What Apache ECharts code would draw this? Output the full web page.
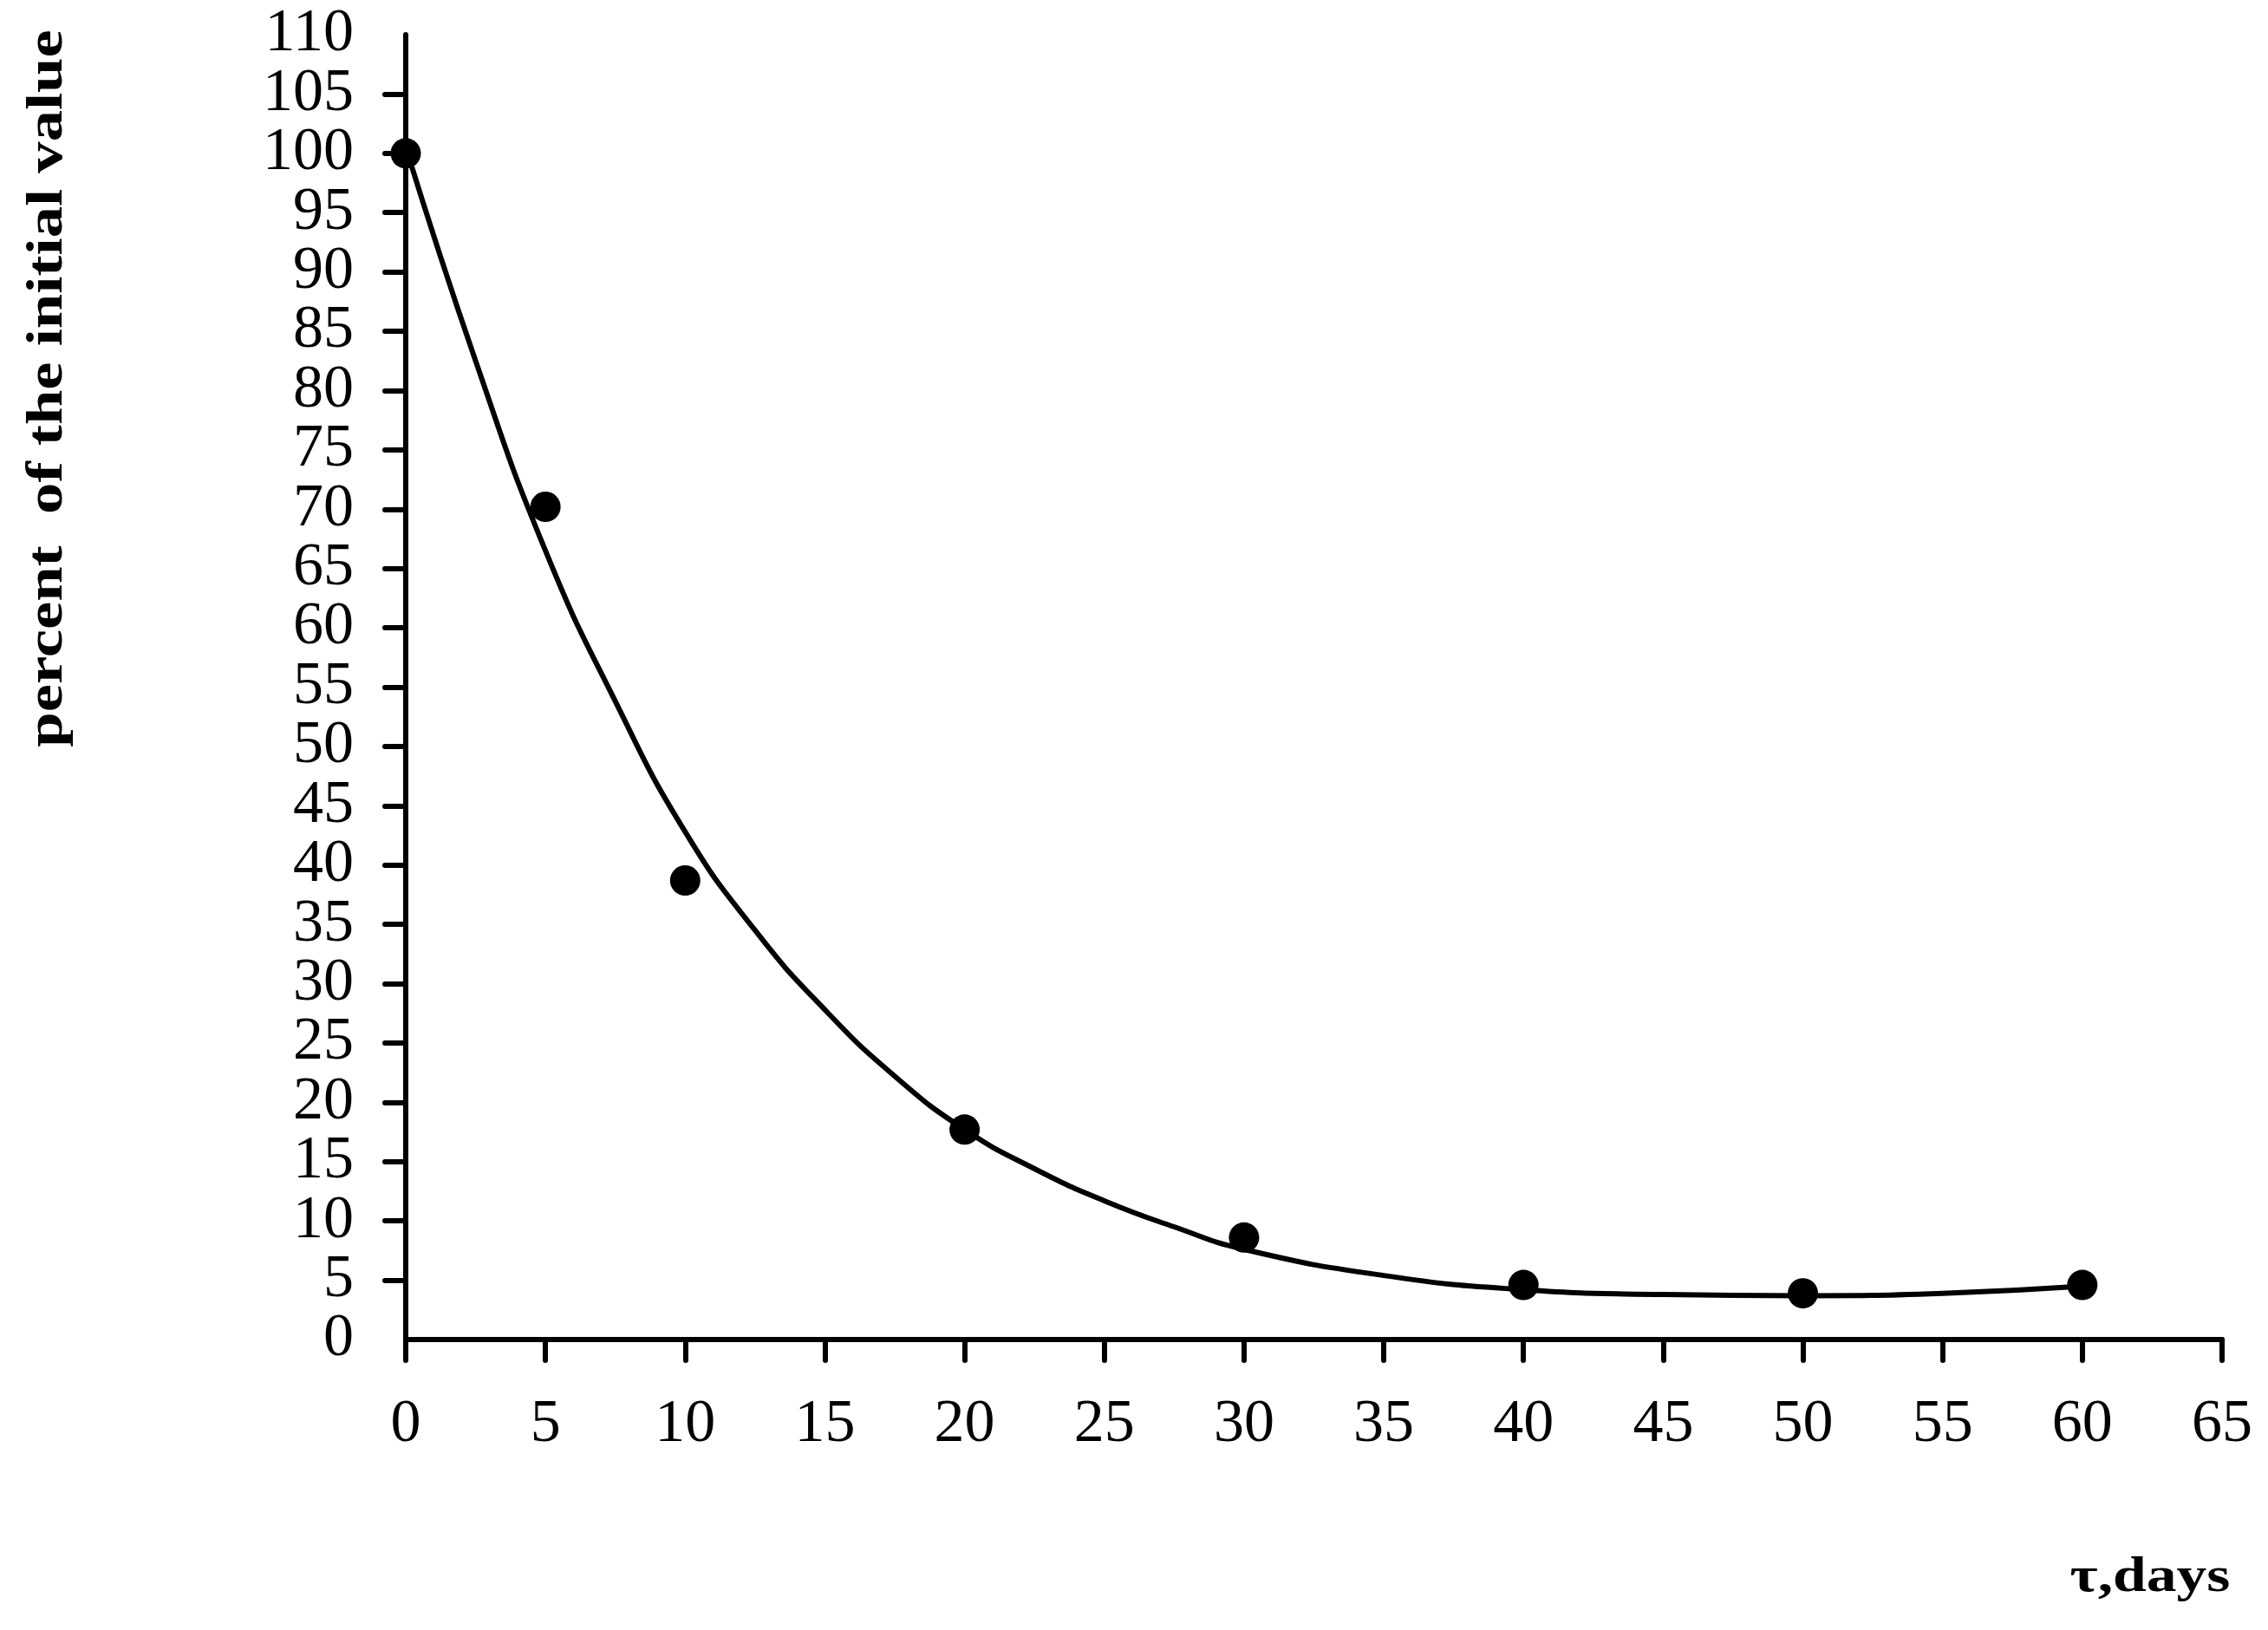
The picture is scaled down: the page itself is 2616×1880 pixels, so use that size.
<!DOCTYPE html>
<html>
<head>
<meta charset="utf-8">
<script src="https://cdn.jsdelivr.net/npm/echarts@6/dist/echarts.min.js"></script>
<style>
html,body{margin:0;padding:0;background:#fff;}
#chart{width:2616px;height:1880px;}
</style>
</head>
<body>
<div id="chart"></div>
<script>
// measured points
const daysX = [0, 5, 10, 20, 30, 40, 50, 60];
const percentY = [100, 70.2, 38.7, 17.7, 8.6, 4.6, 3.9, 4.6];
// trend curve
const curveX = [0, 2.5, 5, 7.5, 10, 12.5, 15, 17.5, 20, 22.5, 25, 27.5, 30, 35, 40, 45, 50, 55, 60];
const curveY = [100.5, 82.5, 66.5, 53.8, 42.8, 34.5, 27.8, 22.2, 17.7, 14.4, 11.7, 9.5, 7.6, 5.4, 4.2, 3.8, 3.7, 3.9, 4.5];
const yTitle = 'percent  of the initial value';
const xTitle = 'τ,days';

const chart = echarts.init(document.getElementById('chart'));
const font = 'Liberation Serif';
const yLabelBase = {color: '#000', fontFamily: font, fontSize: 70, margin: 60, hideOverlap: false};
chart.setOption({
  backgroundColor: '#fff',
  animation: false,
  grid: {left: 468, top: 40, right: 53, bottom: 335, containLabel: false},
  xAxis: {
    type: 'value', min: 0, max: 65, interval: 5,
    axisLine: {lineStyle: {color: '#000', width: 6}},
    axisTick: {length: 24, lineStyle: {color: '#000', width: 6, cap: 'round'}},
    axisLabel: {color: '#000', fontFamily: font, fontSize: 70, margin: 64, showMinLabel: true, showMaxLabel: true, hideOverlap: false},
    splitLine: {show: false}
  },
  yAxis: [
    {
      type: 'value', min: 0, max: 110, interval: 5,
      axisLine: {lineStyle: {color: '#000', width: 6}},
      axisTick: {length: 24, lineStyle: {color: '#000', width: 6, cap: 'round'}},
      axisLabel: Object.assign({showMinLabel: false, showMaxLabel: false}, yLabelBase),
      splitLine: {show: false}
    },
    {
      type: 'value', min: 0, max: 110, interval: 5, position: 'left',
      axisLine: {show: false},
      axisTick: {show: false},
      axisLabel: Object.assign({showMinLabel: true, showMaxLabel: true,
        formatter: v => (v === 0 || v === 110) ? String(v) : ''}, yLabelBase),
      splitLine: {show: false}
    }
  ],
  series: [
    {
      type: 'line',
      data: curveX.map((x, i) => [x, curveY[i]]),
      smooth: true,
      showSymbol: false,
      lineStyle: {color: '#000', width: 6},
      z: 2
    },
    {
      type: 'scatter',
      data: daysX.map((x, i) => [x, percentY[i]]),
      symbol: 'circle',
      symbolSize: 35,
      itemStyle: {color: '#000', opacity: 1},
      z: 3
    }
  ],
  graphic: [
    {
      type: 'text', x: 55, y: 448, rotation: Math.PI / 2, scaleX: 1.21,
      style: {text: yTitle, fontFamily: font, fontWeight: 'bold', fontSize: 60, fill: '#000', align: 'center', verticalAlign: 'middle'}
    },
    {
      type: 'text', x: 2480, y: 1820, scaleX: 1.2,
      style: {text: xTitle, fontFamily: font, fontWeight: 'bold', fontSize: 58, fill: '#000', align: 'center', verticalAlign: 'middle'}
    }
  ]
});
</script>
</body>
</html>
